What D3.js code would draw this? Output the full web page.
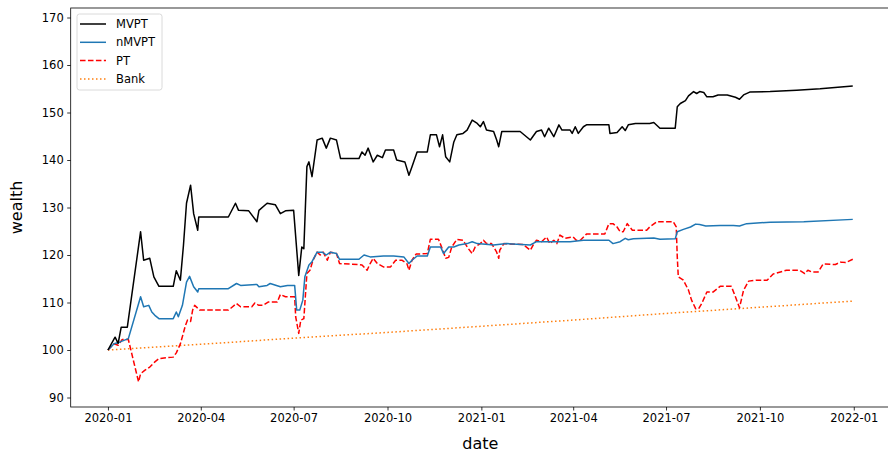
<!DOCTYPE html>
<html>
<head>
<meta charset="utf-8">
<script src="https://cdn.jsdelivr.net/npm/d3@7"></script>
<style>
  body { margin: 0; background: #fff; }
  text { font-family: 'DejaVu Sans', sans-serif; }
</style>
</head>
<body>
<svg id="chart" width="888" height="453"></svg>
<script>
// ------------------
// Data
// ------------------
const seriesNames = ['MVPT', 'nMVPT', 'PT', 'Bank']

const mvpt = [
  ['2020-01-01', 100], ['2020-01-08', 102.7], ['2020-01-11', 101.4], ['2020-01-14', 104.8], ['2020-01-20', 104.8],
  ['2020-02-02', 124.9], ['2020-02-05', 118.9], ['2020-02-11', 119.3], ['2020-02-15', 115.4], ['2020-02-20', 113.4],
  ['2020-03-05', 113.4], ['2020-03-08', 116.7], ['2020-03-12', 114.7], ['2020-03-15', 122], ['2020-03-18', 130.9],
  ['2020-03-22', 134.7], ['2020-03-25', 128.7], ['2020-03-29', 125.2], ['2020-03-30', 128], ['2020-04-28', 128],
  ['2020-05-05', 130.9], ['2020-05-08', 129.4], ['2020-05-18', 129.3], ['2020-05-26', 127], ['2020-05-28', 129.4],
  ['2020-06-05', 130.9], ['2020-06-13', 130.6], ['2020-06-18', 128.7], ['2020-06-23', 129.3], ['2020-07-01', 129.4],
  ['2020-07-06', 115.7], ['2020-07-09', 121.7], ['2020-07-11', 121.3], ['2020-07-14', 138.6], ['2020-07-16', 139.6],
  ['2020-07-19', 136.5], ['2020-07-24', 144.2], ['2020-07-29', 144.6], ['2020-08-02', 142.5], ['2020-08-06', 144.6],
  ['2020-08-12', 144.2], ['2020-08-16', 140.3], ['2020-09-03', 140.3], ['2020-09-06', 141.7], ['2020-09-09', 141],
  ['2020-09-12', 142.5], ['2020-09-17', 139.6], ['2020-09-21', 141], ['2020-09-26', 140.5], ['2020-09-29', 142.1],
  ['2020-10-07', 142.1], ['2020-10-10', 140], ['2020-10-18', 139.6], ['2020-10-22', 136.8], ['2020-10-25', 138.6],
  ['2020-10-30', 141.7], ['2020-11-09', 141.7], ['2020-11-12', 145.3], ['2020-11-18', 145.3], ['2020-11-21', 142.8],
  ['2020-11-24', 145.3], ['2020-11-27', 140.7], ['2020-12-01', 139.6], ['2020-12-05', 143.8], ['2020-12-08', 145.3],
  ['2020-12-14', 145.6], ['2020-12-18', 146.3], ['2020-12-23', 148.4], ['2020-12-28', 147.7], ['2020-12-31', 147],
  ['2021-01-03', 148.1], ['2021-01-06', 146.3], ['2021-01-13', 146], ['2021-01-16', 144.2], ['2021-01-18', 142.8],
  ['2021-01-21', 146], ['2021-02-08', 146], ['2021-02-18', 144.2], ['2021-02-24', 146], ['2021-03-01', 146.3],
  ['2021-03-04', 144.9], ['2021-03-08', 146.7], ['2021-03-13', 144.9], ['2021-03-18', 147.4], ['2021-03-21', 146.3],
  ['2021-03-29', 146.3], ['2021-03-31', 145.6], ['2021-04-03', 147], ['2021-04-06', 145.6], ['2021-04-11', 147],
  ['2021-04-14', 147.4], ['2021-05-06', 147.4], ['2021-05-07', 145.6], ['2021-05-14', 145.8], ['2021-05-19', 147],
  ['2021-05-22', 146.2], ['2021-05-25', 147.4], ['2021-06-01', 147.7], ['2021-06-15', 147.7], ['2021-06-19', 147.9],
  ['2021-06-25', 146.7], ['2021-07-10', 146.7], ['2021-07-12', 151.2], ['2021-07-15', 151.9], ['2021-07-20', 152.5],
  ['2021-07-23', 153.5], ['2021-07-28', 154.4], ['2021-07-31', 154], ['2021-08-03', 154.4], ['2021-08-07', 154.2],
  ['2021-08-10', 153.3], ['2021-08-16', 153.3], ['2021-08-21', 153.7], ['2021-08-30', 153.7], ['2021-09-07', 153.2],
  ['2021-09-11', 152.8], ['2021-09-15', 153.7], ['2021-09-21', 154.3], ['2021-10-11', 154.4], ['2021-11-06', 154.7],
  ['2021-11-29', 155], ['2021-12-31', 155.6]
]

const nmvpt = [
  ['2020-01-01', 100], ['2020-01-07', 101.3], ['2020-01-13', 101.7], ['2020-01-21', 102.4], ['2020-02-02', 111.2],
  ['2020-02-05', 109.1], ['2020-02-10', 109.4], ['2020-02-13', 108], ['2020-02-16', 107.3], ['2020-02-20', 106.6],
  ['2020-03-05', 106.6], ['2020-03-08', 108], ['2020-03-10', 107], ['2020-03-14', 109.4], ['2020-03-18', 114.3],
  ['2020-03-21', 115.5], ['2020-03-25', 113.3], ['2020-03-29', 112.2], ['2020-03-30', 112.9], ['2020-04-28', 112.9],
  ['2020-05-06', 114], ['2020-05-10', 113.6], ['2020-05-26', 113.8], ['2020-05-28', 113.3], ['2020-06-05', 113.6],
  ['2020-06-08', 114], ['2020-06-18', 113.3], ['2020-06-25', 113.6], ['2020-07-02', 113.6], ['2020-07-04', 108.4],
  ['2020-07-07', 108.4], ['2020-07-10', 110.5], ['2020-07-12', 115.4], ['2020-07-16', 117.9], ['2020-07-19', 118.6],
  ['2020-07-24', 120.6], ['2020-07-29', 120.6], ['2020-08-02', 120], ['2020-08-06', 120.6], ['2020-08-12', 120.3],
  ['2020-08-15', 119.1], ['2020-09-03', 119.1], ['2020-09-08', 120], ['2020-09-14', 119.6], ['2020-09-27', 119.8],
  ['2020-10-07', 119.8], ['2020-10-17', 119.6], ['2020-10-22', 118.2], ['2020-10-25', 118.9], ['2020-10-30', 119.8],
  ['2020-11-09', 119.8], ['2020-11-12', 121.7], ['2020-11-22', 121.7], ['2020-11-25', 120.3], ['2020-11-30', 121.7],
  ['2020-12-05', 121.7], ['2020-12-10', 122.1], ['2020-12-18', 122.4], ['2020-12-23', 122.8], ['2020-12-28', 122.4],
  ['2021-01-13', 122.1], ['2021-01-26', 122.4], ['2021-02-18', 122.1], ['2021-02-24', 122.8], ['2021-03-29', 122.8],
  ['2021-04-11', 123.1], ['2021-05-06', 123.1], ['2021-05-10', 122.4], ['2021-05-17', 122.8], ['2021-05-22', 123.5],
  ['2021-05-25', 123.2], ['2021-05-30', 123.4], ['2021-06-19', 123.6], ['2021-06-25', 123.3], ['2021-07-10', 123.4],
  ['2021-07-12', 124.9], ['2021-07-18', 125.4], ['2021-07-25', 125.9], ['2021-07-30', 126.5], ['2021-08-03', 126.4],
  ['2021-08-09', 126.1], ['2021-08-23', 126.2], ['2021-09-05', 126.2], ['2021-09-11', 126.1], ['2021-09-18', 126.6],
  ['2021-10-11', 126.9], ['2021-11-13', 127], ['2021-12-31', 127.5]
]

const pt = [
  ['2020-01-01', 100], ['2020-01-07', 101.3], ['2020-01-11', 101], ['2020-01-15', 102.2], ['2020-01-21', 102.2],
  ['2020-01-31', 93.3], ['2020-02-02', 95], ['2020-02-06', 95.7], ['2020-02-11', 96.4], ['2020-02-16', 97.5],
  ['2020-02-20', 98.2], ['2020-02-28', 98.4], ['2020-03-05', 98.5], ['2020-03-08', 99.4], ['2020-03-12', 101.3],
  ['2020-03-17', 105.2], ['2020-03-19', 106.3], ['2020-03-22', 106], ['2020-03-24', 108.4], ['2020-03-26', 109.4],
  ['2020-03-31', 108.4], ['2020-04-28', 108.4], ['2020-05-01', 108.9], ['2020-05-06', 109.8], ['2020-05-10', 109.1],
  ['2020-05-21', 109.1], ['2020-05-24', 109.9], ['2020-05-28', 109.4], ['2020-06-01', 109.4], ['2020-06-06', 110.1],
  ['2020-06-15', 110.1], ['2020-06-18', 111.7], ['2020-06-23', 111.2], ['2020-07-02', 111.2], ['2020-07-03', 107],
  ['2020-07-06', 103.5], ['2020-07-08', 106.3], ['2020-07-11', 106.6], ['2020-07-14', 116.1], ['2020-07-17', 116.8],
  ['2020-07-20', 118.9], ['2020-07-24', 120.6], ['2020-07-27', 120], ['2020-07-30', 120.6], ['2020-08-03', 118.9],
  ['2020-08-06', 120.6], ['2020-08-12', 120.3], ['2020-08-15', 118.2], ['2020-09-03', 118], ['2020-09-06', 117.9],
  ['2020-09-11', 116.8], ['2020-09-14', 118.2], ['2020-09-17', 119.3], ['2020-09-21', 118.2], ['2020-09-27', 117.5],
  ['2020-10-04', 117.5], ['2020-10-09', 118.9], ['2020-10-15', 118.9], ['2020-10-20', 118.2], ['2020-10-22', 116.8],
  ['2020-10-25', 118.9], ['2020-10-29', 120.2], ['2020-11-09', 120.3], ['2020-11-12', 123.3], ['2020-11-20', 123.3],
  ['2020-11-23', 121.7], ['2020-11-27', 119.3], ['2020-11-30', 119.5], ['2020-12-03', 121.7], ['2020-12-08', 123.3],
  ['2020-12-14', 123.1], ['2020-12-19', 121.4], ['2020-12-23', 120.3], ['2020-12-26', 121.7], ['2020-12-31', 122.4],
  ['2021-01-03', 123.1], ['2021-01-06', 122.4], ['2021-01-11', 122.4], ['2021-01-16', 120.6], ['2021-01-18', 119.3],
  ['2021-01-19', 121], ['2021-01-23', 122.4], ['2021-02-11', 122.2], ['2021-02-18', 121], ['2021-02-21', 122.2],
  ['2021-02-24', 123.1], ['2021-03-01', 122.8], ['2021-03-06', 123.8], ['2021-03-09', 122.4], ['2021-03-13', 123.1],
  ['2021-03-16', 122.4], ['2021-03-19', 124.2], ['2021-03-24', 123.5], ['2021-04-01', 123.8], ['2021-04-04', 123.1],
  ['2021-04-08', 123.1], ['2021-04-14', 124.4], ['2021-05-02', 124.4], ['2021-05-06', 126.6], ['2021-05-10', 126.6],
  ['2021-05-14', 125.9], ['2021-05-17', 124.9], ['2021-05-20', 124.9], ['2021-05-24', 126.6], ['2021-05-29', 125.2],
  ['2021-06-12', 125.2], ['2021-06-15', 125.9], ['2021-06-22', 127], ['2021-07-08', 127], ['2021-07-11', 125.9],
  ['2021-07-12', 119.6], ['2021-07-13', 115.4], ['2021-07-18', 114.7], ['2021-07-23', 112.6], ['2021-07-26', 110.5],
  ['2021-07-30', 108.7], ['2021-08-02', 108.7], ['2021-08-05', 109.8], ['2021-08-10', 112.2], ['2021-08-16', 112.2],
  ['2021-08-23', 113.4], ['2021-09-03', 113.4], ['2021-09-07', 111.2], ['2021-09-11', 108.9], ['2021-09-15', 112.6],
  ['2021-09-20', 114.5], ['2021-09-28', 114.7], ['2021-10-08', 114.7], ['2021-10-14', 116], ['2021-10-27', 116.8],
  ['2021-11-09', 116.8], ['2021-11-14', 116.1], ['2021-11-17', 116.8], ['2021-11-21', 116.4], ['2021-11-27', 116.4],
  ['2021-12-02', 118.1], ['2021-12-14', 118], ['2021-12-19', 118.5], ['2021-12-24', 118.4], ['2021-12-31', 119.1]
]

const bank = [
  ['2020-01-01', 100], ['2020-04-01', 101.2], ['2020-07-01', 102.5], ['2020-10-01', 103.7],
  ['2021-01-01', 105], ['2021-04-01', 106.3], ['2021-07-01', 107.7], ['2021-10-01', 109], ['2021-12-31', 110.3]
]

const yTicks = [90, 100, 110, 120, 130, 140, 150, 160, 170]
const xTickLabels = ['2020-01', '2020-04', '2020-07', '2020-10', '2021-01', '2021-04', '2021-07', '2021-10', '2022-01']
const yDomain = [88, 172]

// ------------------
// Setup
// ------------------
const parse = d3.utcParse('%Y-%m-%d')
const parseTick = d3.utcParse('%Y-%m')
const fmtTick = d3.utcFormat('%Y-%m')

const width = 888
const height = 453
const plot = { left: 70.7, top: 8, right: 890, bottom: 407 }

const svg = d3.select('#chart')

const series = [
  { name: 'MVPT', data: mvpt, color: '#000000', dash: null },
  { name: 'nMVPT', data: nmvpt, color: '#1f77b4', dash: null },
  { name: 'PT', data: pt, color: '#ff0000', dash: '5.55,2.4' },
  { name: 'Bank', data: bank, color: '#ff7f0e', dash: '1.5,2.5' }
]
series.forEach(s => { s.points = s.data.map(d => ({ date: parse(d[0]), value: d[1] })) })

// matplotlib style 5% margin on the date axis
const allDates = series.flatMap(s => s.points.map(p => p.date))
const [d0, d1] = d3.extent(allDates)
const pad = (d1 - d0) * 0.05

const x = d3.scaleUtc()
  .domain([new Date(+d0 - pad), new Date(+d1 + pad)])
  .range([plot.left, plot.right])

const y = d3.scaleLinear()
  .domain(yDomain)
  .range([plot.bottom, plot.top])

// ------------------
// Lines
// ------------------
const line = d3.line()
  .x(d => x(d.date))
  .y(d => y(d.value))

svg.append('g')
  .selectAll('path')
  .data(series.slice().reverse())
  .join('path')
  .attr('d', d => line(d.points))
  .attr('fill', 'none')
  .attr('stroke', d => d.color)
  .attr('stroke-width', 1.5)
  .attr('stroke-dasharray', d => d.dash)
  .attr('stroke-linejoin', 'round')

// ------------------
// Axes
// ------------------
const xAxis = d3.axisBottom(x)
  .tickValues(xTickLabels.map(parseTick))
  .tickFormat(fmtTick)
  .tickSize(3.5)
  .tickPadding(3.5)

const yAxis = d3.axisLeft(y)
  .tickValues(yTicks)
  .tickSize(3.5)
  .tickPadding(3.5)

const gx = svg.append('g')
  .attr('transform', `translate(0,${plot.bottom})`)
  .call(xAxis)
const gy = svg.append('g')
  .attr('transform', `translate(${plot.left},0)`)
  .call(yAxis)

;[gx, gy].forEach(g => {
  g.select('.domain').remove()
  g.selectAll('.tick line').attr('stroke', '#000').attr('stroke-width', 0.8)
  g.selectAll('.tick text')
    .attr('fill', '#000')
    .attr('font-size', 11.5)
    .attr('font-family', 'DejaVu Sans, sans-serif')
})

// frame
svg.append('rect')
  .attr('x', plot.left)
  .attr('y', plot.top)
  .attr('width', plot.right - plot.left)
  .attr('height', plot.bottom - plot.top)
  .attr('fill', 'none')
  .attr('stroke', '#000')
  .attr('stroke-width', 0.8)

// axis labels
svg.append('text')
  .attr('x', (plot.left + plot.right) / 2)
  .attr('y', 449)
  .attr('text-anchor', 'middle')
  .attr('font-size', 16)
  .attr('fill', '#000')
  .text('date')

svg.append('text')
  .attr('transform', `translate(22,${(plot.top + plot.bottom) / 2}) rotate(-90)`)
  .attr('text-anchor', 'middle')
  .attr('font-size', 16)
  .attr('fill', '#000')
  .text('wealth')

// ------------------
// Legend
// ------------------
const legend = svg.append('g').attr('transform', 'translate(77,14)')
legend.append('rect')
  .attr('width', 85)
  .attr('height', 76)
  .attr('rx', 2.5)
  .attr('fill', '#fff')
  .attr('fill-opacity', 0.8)
  .attr('stroke', '#d0d0d0')
  .attr('stroke-width', 0.8)

const item = legend.selectAll('g.item')
  .data(series)
  .join('g')
  .attr('class', 'item')
  .attr('transform', (d, i) => `translate(0,${10 + i * 18.3})`)

item.append('line')
  .attr('x1', 3).attr('x2', 29)
  .attr('stroke', d => d.color)
  .attr('stroke-width', 1.5)
  .attr('stroke-dasharray', d => d.dash)

item.append('text')
  .attr('x', 39)
  .attr('dy', '0.35em')
  .attr('font-size', 11.5)
  .attr('fill', '#000')
  .text(d => d.name)
</script>
</body>
</html>
